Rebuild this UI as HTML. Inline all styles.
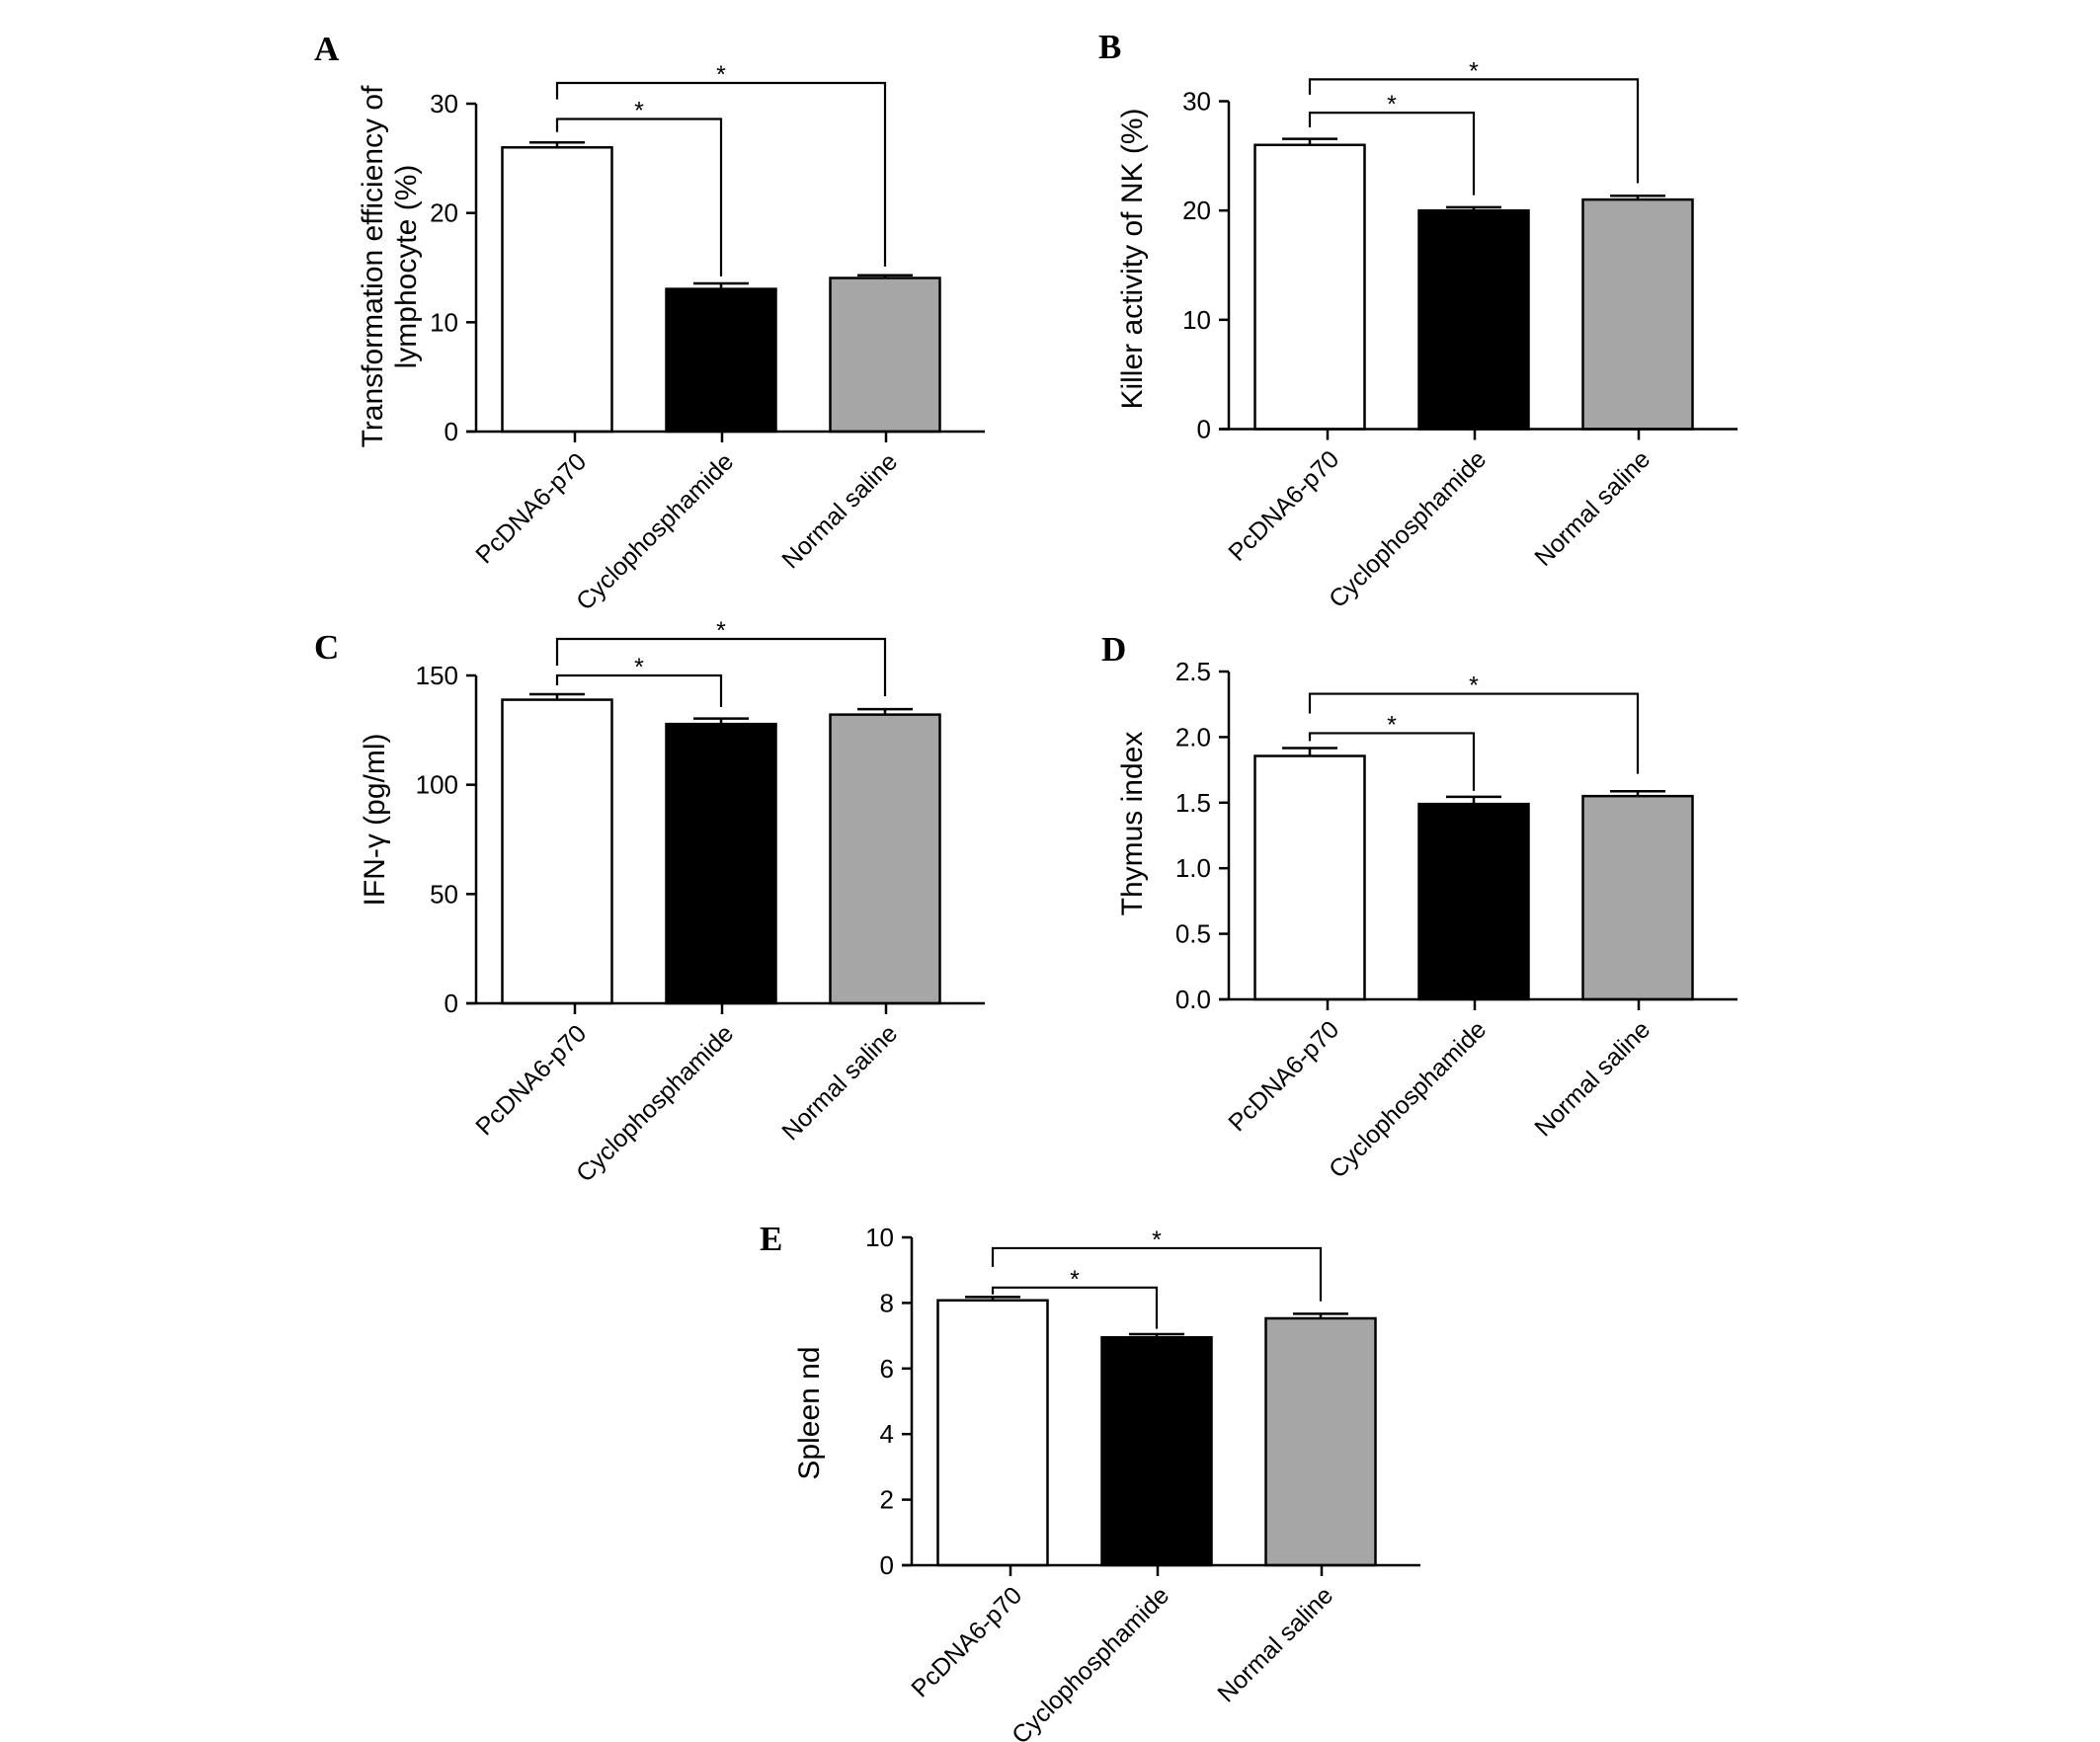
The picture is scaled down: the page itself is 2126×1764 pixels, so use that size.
<!DOCTYPE html>
<html><head><meta charset="utf-8"><style>
html,body{margin:0;padding:0;background:#fff}
svg{display:block}
text{font-family:"Liberation Sans",Arial,sans-serif;fill:#000}
.lbl{font-family:"Liberation Serif",serif;font-weight:bold;font-size:35px}
</style></head><body>
<svg id="fig" width="2126" height="1764" viewBox="0 0 2126 1764"></svg>
<script>
const categories = ["PcDNA6-p70", "Cyclophosphamide", "Normal saline"];
const fills = ["#ffffff", "#000000", "#a6a6a6"];
const valuesA = [26.0, 13.05, 14.05];
const errorsA = [0.45, 0.5, 0.25];
const ticksA = [0, 10, 20, 30];
const bracketsA = [[28.6, 27.4, 14.2], [31.9, 30.4, 15.1]];
const valuesB = [26.0, 20.0, 21.0];
const errorsB = [0.55, 0.3, 0.35];
const ticksB = [0, 10, 20, 30];
const bracketsB = [[28.95, 27.6, 21.4], [32.0, 30.6, 22.5]];
const valuesC = [138.9, 127.8, 132.1];
const errorsC = [2.5, 2.5, 2.5];
const ticksC = [0, 50, 100, 150];
const bracketsC = [[150.0, 145.5, 135.6], [166.7, 154.5, 140.5]];
const valuesD = [1.856, 1.49, 1.55];
const errorsD = [0.06, 0.055, 0.037];
const ticksD = ["0.0", "0.5", "1.0", "1.5", "2.0", "2.5"];
const bracketsD = [[2.03, 1.97, 1.59], [2.33, 2.18, 1.72]];
const valuesE = [8.08, 6.95, 7.53];
const errorsE = [0.1, 0.1, 0.14];
const ticksE = [0, 2, 4, 6, 8, 10];
const bracketsE = [[8.47, 8.26, 7.21], [9.67, 9.10, 8.05]];

const NS = "http://www.w3.org/2000/svg";
const svg = document.getElementById("fig");
function mk(tag, attrs, parent, txt) {
  const e = document.createElementNS(NS, tag);
  for (const k in attrs) e.setAttribute(k, attrs[k]);
  if (txt !== undefined) e.textContent = txt;
  parent.appendChild(e);
  return e;
}
function panel(id, letter, lx, ly, ax, y0, ymax, values, errors, ticks, brackets, titleLines, titleX, titleY) {
  const g = mk("g", {}, svg);
  
  
  const yS = v => y0 - (v / ymax) * 332;
  const cx = i => ax + 82 + i * 166;
  const L = mk("text", {x: lx, y: ly, class: "lbl"}, g, letter);
  
  
  values.forEach((v, i) => {
    const r = mk("rect", {x: cx(i) - 55.5, y: yS(v), width: 111, height: y0 - yS(v), fill: fills[i], stroke: "#000", "stroke-width": 2.5}, g);
    
    
    const e = mk("path", {d: `M${cx(i)} ${yS(v)}V${yS(v + errors[i])}M${cx(i) - 28} ${yS(v + errors[i])}H${cx(i) + 28}`, stroke: "#000", "stroke-width": 2.5, fill: "none"}, g);
    
    
  });
  const yAx = mk("line", {x1: ax, y1: y0, x2: ax, y2: yS(ymax), stroke: "#000", "stroke-width": 2.5}, g);
  
  
  const xAx = mk("line", {x1: ax - 10, y1: y0, x2: ax + 515, y2: y0, stroke: "#000", "stroke-width": 2.5}, g);
  
  
  ticks.forEach(t => {
    const y = yS(parseFloat(t));
    mk("line", {x1: ax - 10, y1: y, x2: ax, y2: y, stroke: "#000", "stroke-width": 2.5}, g);
    const tl = mk("text", {x: ax - 18, y: y + 9, "text-anchor": "end", "font-size": 26}, g, String(t));
    
    
  });
  const xt = [ax + 100, ax + 249, ax + 415];
  categories.forEach((c, i) => {
    mk("line", {x1: xt[i], y1: y0, x2: xt[i], y2: y0 + 11, stroke: "#000", "stroke-width": 2.5}, g);
    const tx = xt[i] + 13, ty = y0 + 32;
    const t = mk("text", {x: tx, y: ty, "text-anchor": "end", "font-size": 25, transform: `rotate(-45 ${tx} ${ty})`}, g, c);
    
    
  });
  brackets.forEach((b, k) => {
    const x1 = cx(0), x2 = cx(k + 1);
    const p = mk("path", {d: `M${x1} ${yS(b[1])}V${yS(b[0])}H${x2}V${yS(b[2])}`, stroke: "#000", "stroke-width": 2.2, fill: "none"}, g);
    
    
    const s = mk("text", {x: (x1 + x2) / 2, y: yS(b[0]), "text-anchor": "middle", "font-size": 25}, g, "*");
    
    
  });
  const tt = mk("text", {x: 0, y: 0, "text-anchor": "middle", "font-size": 30, transform: `translate(${titleX} ${titleY}) rotate(-90)`}, g);
  
  
  titleLines.forEach((ln, i) => mk("tspan", {x: 0, y: i * 34}, tt, ln));
}
panel("a", "A", 318, 61, 482, 437, 30, valuesA, errorsA, ticksA, bracketsA, ["Transformation efficiency of", "lymphocyte (%)"], 387, 270);
panel("b", "B", 1112, 59, 1244, 434.5, 30, valuesB, errorsB, ticksB, bracketsB, ["Killer activity of NK (%)"], 1156, 262);
panel("c", "C", 318, 667, 482, 1016, 150, valuesC, errorsC, ticksC, bracketsC, ["IFN-γ (pg/ml)"], 389, 830);
panel("d", "D", 1115, 669, 1244, 1012, 2.5, valuesD, errorsD, ticksD, bracketsD, ["Thymus index"], 1156, 834);
panel("e", "E", 769, 1266, 923, 1585, 10, valuesE, errorsE, ticksE, bracketsE, ["Spleen nd"], 829, 1431);
</script>
</body></html>
